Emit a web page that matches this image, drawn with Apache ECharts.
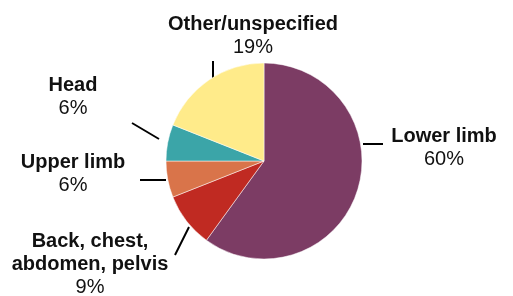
<!DOCTYPE html>
<html>
<head>
<meta charset="utf-8">
<title>Injury location</title>
<script src="https://cdn.jsdelivr.net/npm/echarts@6/dist/echarts.min.js"></script>
<style>
  html, body { margin: 0; padding: 0; background: #fff; }
  #chart { width: 513px; height: 296px; }
</style>
</head>
<body>
<div id="chart"></div>
<script>
// slices, clockwise from 12 o'clock
var categories = ['Lower limb', 'Back, chest,\nabdomen, pelvis', 'Upper limb', 'Head', 'Other/unspecified'];
var percents = [60, 9, 6, 6, 19];
var colors = ['#7c3c64', '#c02a22', '#d9744a', '#3ba5a8', '#ffeb8a'];

// label placement: centre x, top y, and the short leader line
var labelSpots = [
  { x: 444, y: 125, line: [[363, 144], [383, 144]] },
  { x: 90, y: 230, line: [[189, 227], [175, 255]] },
  { x: 73, y: 151, line: [[166, 180], [140, 180]] },
  { x: 73, y: 74, line: [[159, 139], [132, 123]] },
  { x: 253, y: 13, line: [[213, 79], [213, 61]] }
];

var chart = echarts.init(document.getElementById('chart'));

chart.setOption({
  animation: false,
  series: [{
    type: 'pie',
    center: [264, 161],
    radius: 98,
    startAngle: 90,
    clockwise: true,
    itemStyle: { borderColor: '#fff', borderWidth: 0.5 },
    label: {
      show: true,
      position: 'outside',
      fontFamily: 'Liberation Sans, Arial, sans-serif',
      color: '#111',
      formatter: function (p) {
        var lines = p.name.split('\n').map(function (s) { return '{n|' + s + '}'; });
        lines.push('{p|' + p.value + '%}');
        return lines.join('\n');
      },
      rich: {
        n: { fontWeight: 'bold', fontSize: 20, lineHeight: 23, color: '#111', align: 'center' },
        p: { fontSize: 20, lineHeight: 23, color: '#111', align: 'center' }
      }
    },
    labelLine: {
      show: true,
      length: 15,
      length2: 0,
      lineStyle: { color: '#000', width: 2 }
    },
    labelLayout: function (params) {
      var s = labelSpots[params.dataIndex];
      return {
        x: s.x,
        y: s.y,
        align: 'center',
        verticalAlign: 'top',
        labelLinePoints: s.line
      };
    },
    data: categories.map(function (c, i) {
      return { name: c, value: percents[i], itemStyle: { color: colors[i] } };
    })
  }]
});
</script>
</body>
</html>
